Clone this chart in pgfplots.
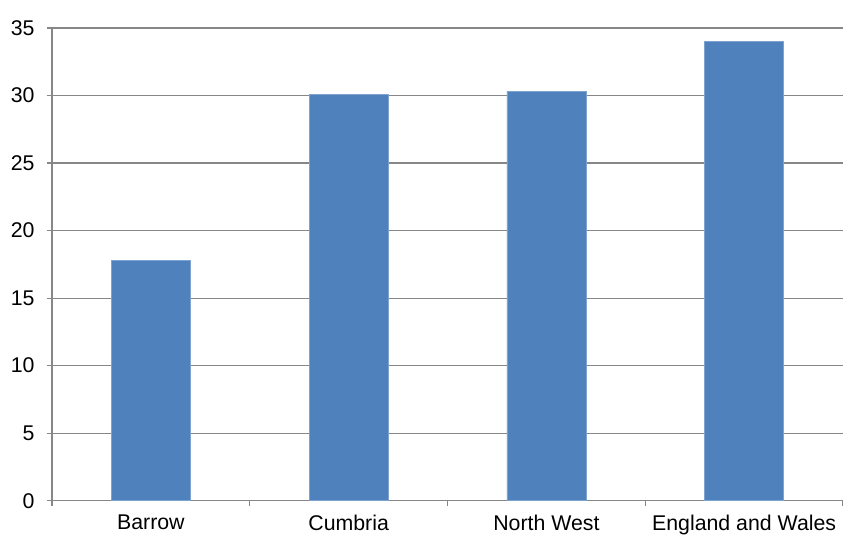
\documentclass[border=0pt]{standalone}
\usepackage{pgfplots}
\pgfplotsset{compat=1.18}
\usepackage{fontspec}
\setmainfont{Liberation Sans}
\definecolor{barblue}{HTML}{4F81BD}
\definecolor{baredge}{HTML}{7FA3D1}
\definecolor{gridgray}{HTML}{878787}
\begin{document}
\begin{tikzpicture}
\useasboundingbox (-52bp,-37bp) rectangle (791bp,500.7bp);
\begin{axis}[
  at={(0,0)}, anchor=south west,
  scale only axis,
  width=791bp, height=472.7bp,
  xmin=-0.5, xmax=3.5,
  ymin=0, ymax=35,
  ytick={0,5,...,35},
  xtick={0,1,2,3},
  xticklabels={Barrow,Cumbria,North West,England and Wales},
  minor xtick={-0.5,0.5,1.5,2.5,3.5},
  axis x line=bottom, axis y line=left,
  axis line style={gridgray, line width=1.2bp, -},
  ymajorgrids,
  major grid style={gridgray, line width=1.2bp},
  tick align=outside,
  major tick length=5bp, minor tick length=5bp,
  x tick style={draw=none},
  minor x tick style={draw=gridgray, line width=1.2bp},
  y tick style={gridgray, line width=1.2bp},
  tick label style={font=\fontsize{21.3bp}{24bp}\selectfont, text=black},
  /pgf/number format/assume math mode=true,
  xticklabel style={yshift=-6bp},
  yticklabel style={xshift=-9bp},
  ybar, bar width=79bp,
  clip=false,
]
\addplot[fill=barblue, draw=baredge, line width=0.6bp] coordinates {
  (0,17.8) (1,30.1) (2,30.3) (3,34.0)
};
\end{axis}
\end{tikzpicture}
\end{document}
